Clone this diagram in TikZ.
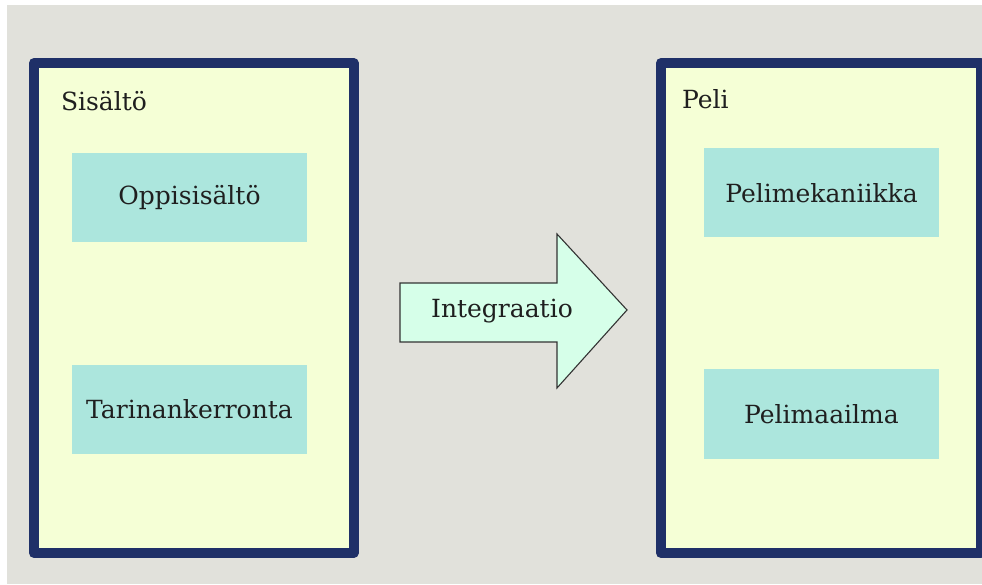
\documentclass[tikz,border=0pt]{standalone}
\usepackage{fontspec}
\setmainfont{DejaVu Serif}
\definecolor{bggray}{HTML}{E1E1DB}
\definecolor{navy}{HTML}{1F3068}
\definecolor{paleyellow}{HTML}{F5FFD6}
\definecolor{aqua}{HTML}{ACE6DD}
\definecolor{mint}{HTML}{D6FFE9}
\tikzset{
  frame/.style={draw=navy, fill=paleyellow, line width=10pt, line join=round},
  label font/.style={font=\fontsize{25}{30}\selectfont, text=black!88},
  item/.style={fill=aqua, label font, minimum width=235pt, minimum height=89pt},
  caption/.style={label font, anchor=base west},
}
\begin{document}
\begin{tikzpicture}[x=1pt,y=1pt]
  % canvas: white page with a grey backdrop
  \useasboundingbox (0,0) rectangle (982,584);
  \fill[white] (0,0) rectangle (982,584);
  \fill[bggray] (7,0) rectangle (982,579);
  \begin{scope}
    \clip (0,0) rectangle (982,584);
    % two framed panels
    \draw[frame] (34,31) rectangle (353.5,521);
    \draw[frame] (661,31) rectangle (981,521);
  \end{scope}
  \node[caption] (sisalto) at (57.5,473) {Sisältö};
  \node[caption] (peli) at (678.5,475) {Peli};
  % content items
  \node[item] (oppi) at (189.5,386.5) {Oppisisältö};
  \node[item] (tarina) at (189.5,174.5) {Tarinankerronta};
  \node[item] (meka) at (821.5,391) {Pelimekaniikka};
  \node[item] (maailma) at (821.5,170) {Pelimaailma};
  % block arrow between the panels
  \draw[fill=mint, draw=black!80, line width=1.1pt, line join=miter]
    (400,301) -- (557,301) -- (557,350) -- (627,274) -- (557,196) -- (557,242) -- (400,242) -- cycle;
  \node[label font] (integ) at (502,273) {Integraatio};
\end{tikzpicture}
\end{document}
